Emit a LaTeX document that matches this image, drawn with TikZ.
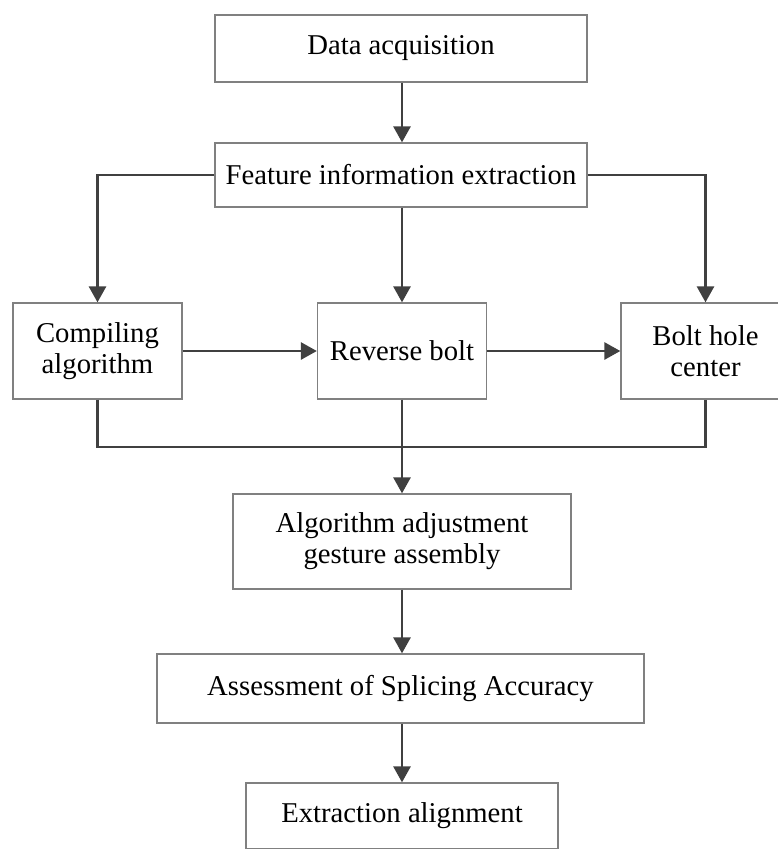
\documentclass[tikz,border=0pt]{standalone}
\usepackage{fontspec}
\setmainfont{Liberation Serif}
\usetikzlibrary{arrows.meta}

\definecolor{boxline}{RGB}{128,128,128}
\definecolor{flowline}{RGB}{64,64,64}

\tikzset{
    stage/.style={draw=boxline, line width=1.3pt, rectangle, align=center, inner sep=0pt,
        font=\fontsize{28.7}{31}\selectfont},
    flow/.style={draw=flowline, line width=2.8pt},
    flowarrow/.style={flow, -{Triangle[length=16pt,width=17pt]}}
}

\begin{document}
\begin{tikzpicture}[x=1pt, y=-1pt]
    \useasboundingbox (0,0) rectangle (778,849);

    \node[stage, minimum width=372pt, minimum height=67pt] (data) at (401,48.5) {Data acquisition};
    \node[stage, minimum width=372pt, minimum height=64pt] (feature) at (401,175) {Feature information extraction};
    \node[stage, minimum width=169pt, minimum height=96pt] (compile) at (97.5,351) {Compiling\\algorithm};
    \node[stage, minimum width=169pt, minimum height=96pt] (reverse) at (402,351) {Reverse bolt};
    \node[stage, minimum width=169pt, minimum height=96pt] (bolthole) at (705.5,351) {Bolt hole\\center};
    \node[stage, minimum width=338pt, minimum height=95pt] (adjust) at (402,541.5) {Algorithm adjustment\\gesture assembly};
    \node[stage, minimum width=487pt, minimum height=69pt] (assess) at (400.5,688.5) {Assessment of Splicing Accuracy};
    \node[stage, minimum width=312pt, minimum height=66pt] (extract) at (402,816) {Extraction alignment};

    \coordinate (join) at (402,447);

    \draw[flowarrow] (data.south -| reverse) -- (feature.north -| reverse);
    \draw[flowarrow] (feature.south -| reverse) -- (reverse.north);
    \draw[flowarrow] (feature.west) -| (compile.north);
    \draw[flowarrow] (feature.east) -| (bolthole.north);
    \draw[flowarrow] (compile.east) -- (reverse.west);
    \draw[flowarrow] (reverse.east) -- (bolthole.west);
    \draw[flow] (compile.south) |- (join) -| (bolthole.south);
    \draw[flowarrow] (reverse.south) -- (adjust.north);
    \draw[flowarrow] (adjust.south) -- (assess.north -| adjust);
    \draw[flowarrow] (assess.south -| adjust) -- (extract.north);
\end{tikzpicture}
\end{document}
